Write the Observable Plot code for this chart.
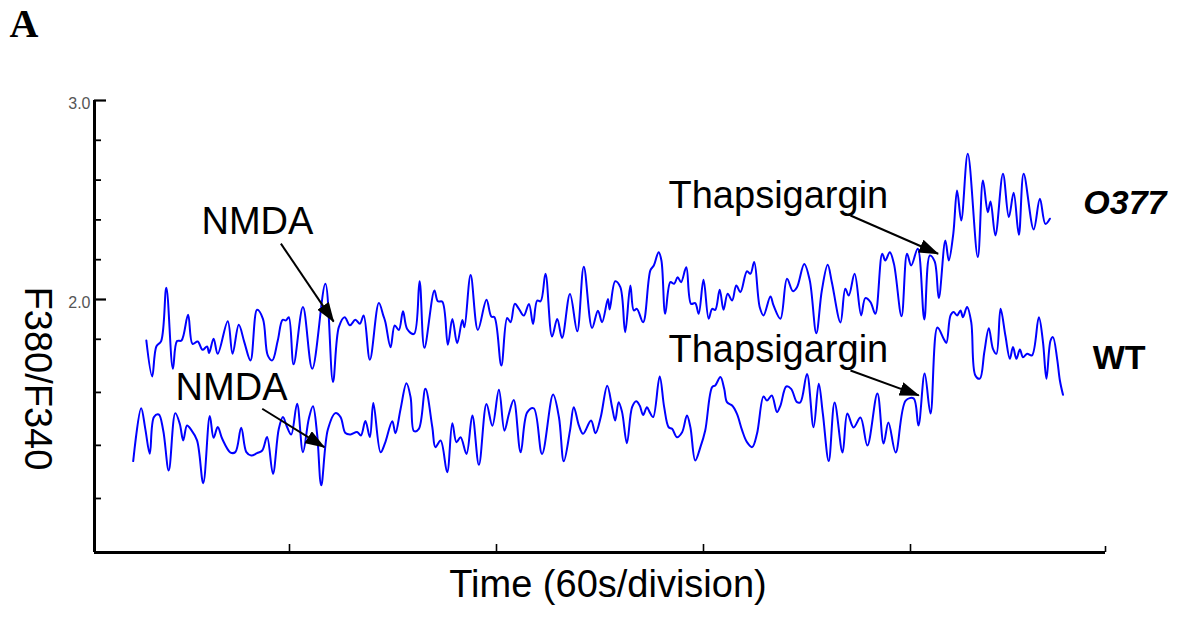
<!DOCTYPE html>
<html>
<head>
<meta charset="utf-8">
<script src="https://cdn.jsdelivr.net/npm/d3@7"></script>
<script src="https://cdn.jsdelivr.net/npm/@observablehq/plot@0.6"></script>
<style>
  html, body { margin: 0; padding: 0; background: #fff; }
  #chart svg { display: block; }
</style>
</head>
<body>
<div id="chart"></div>
<script>
// ---------- data (time in s, F380/F340 ratio) ----------
const timeO377 = [18.5,20.2,21.4,22.8,24.3,26.2,27.4,28.7,30.6,31.9,33.4,34.8,36.1,36.7,38.0,39.2,42.1,43.5,45.3,46.9,48.7,50.6,52.3,53.7,55.0,56.6,58.0,59.0,59.8,61.2,63.9,66.6,70.4,72.6,74.3,76.0,77.5,79.1,80.4,81.5,83.3,
85.9,87.2,87.8,89.3,90.5,91.7,92.9,94.1,96.1,97.7,99.1,102.0,103.0,104.3,105.9,107.2,108.6,110.1,110.7,112.5,114.6,117.1,118.5,119.4,121.4,123.1,124.1,125.3,126.5,127.9,129.4,130.6,131.8,132.8,134.2,136.1,137.6,139.0,141.3,143.4,145.3,147.7,149.4,150.6,152.3,
152.8,154.4,155.9,157.3,158.8,159.8,160.7,162.5,164.6,165.6,167.0,167.8,168.9,170.4,171.5,172.5,173.5,175.0,176.4,177.6,178.6,180.0,181.5,182.5,183.4,184.7,185.8,187.0,188.3,189.5,190.7,192.6,193.6,194.7,196.3,197.4,199.4,200.3,202.3,204.2,205.9,207.1,209.2,210.8,212.7,214.3,216.0,217.2,219.7,
221.1,222.1,223.8,225.7,226.9,228.4,229.8,231.8,232.7,234.0,235.2,237.4,239.0,240.2,242.1,244.0,245.6,247.0,248.2,250.1,251.1,252.4,253.5,254.7,256.6,259.5,261.0,262.4,263.2,264.6,266.8,268.5,269.9,271.4,272.8,275.7,277.5,279.1,280.4];
const ratioO377 = [1.794,1.613,1.764,1.791,2.059,1.652,1.791,1.794,1.923,1.777,1.789,1.747,1.764,1.731,1.803,1.727,1.891,1.727,1.873,1.786,1.694,1.948,1.903,1.719,1.694,1.794,1.898,1.895,1.911,1.674,1.962,1.652,2.079,1.585,1.861,1.911,1.870,1.898,1.878,1.920,1.697,
1.983,1.919,1.886,1.760,1.869,1.847,1.941,1.852,1.827,2.092,1.757,2.045,1.991,1.989,1.773,1.902,1.780,1.897,1.860,2.123,1.847,1.999,1.914,1.911,1.668,1.907,1.886,1.978,1.953,1.919,1.978,1.877,1.995,1.991,2.129,1.814,1.902,1.807,2.028,1.840,2.165,1.857,1.944,1.886,2.003,
1.950,2.092,2.062,1.836,2.070,1.945,1.953,1.886,2.146,2.171,2.238,2.196,1.928,2.087,2.079,2.112,2.087,2.162,1.978,1.982,1.928,2.099,1.903,1.953,1.948,2.049,1.948,2.029,1.995,2.070,2.037,2.142,2.129,2.188,1.961,1.920,2.015,1.970,1.903,2.104,2.042,2.062,2.179,2.096,1.831,2.045,2.174,2.087,1.885,
2.054,2.020,2.129,1.920,2.007,1.987,1.928,2.230,2.196,2.238,2.179,1.916,2.230,2.171,2.255,1.900,2.221,2.191,2.007,2.297,2.196,2.330,2.548,2.397,2.732,2.213,2.598,2.439,2.493,2.322,2.632,2.414,2.536,2.325,2.632,2.352,2.506,2.380,2.406];

const timeWT = [14.7,17.0,18.2,19.5,20.7,22.1,23.4,25.0,26.9,28.2,29.2,30.3,31.5,33.2,35.0,36.9,38.0,39.2,40.5,42.9,44.3,46.0,47.5,48.9,50.6,52.1,53.5,55.2,56.9,58.1,59.3,60.5,62.2,63.9,65.6,66.8,68.0,69.2,71.1,73.3,74.8,76.2,77.7,79.6,80.7,82.0,83.3,
84.3,86.4,87.6,89.8,90.7,92.2,93.9,95.1,96.1,97.5,99.4,101.4,102.3,103.8,105.7,107.2,108.4,109.6,111.3,113.0,114.9,117.1,118.8,120.7,122.3,123.6,125.0,127.0,128.9,130.8,133.2,136.4,138.1,139.5,141.3,142.4,143.9,145.1,147.4,148.7,150.2,152.1,
153.5,154.4,155.4,156.4,157.8,159.3,160.5,161.5,162.5,163.6,164.4,165.4,167.3,168.6,169.9,170.9,172.3,173.8,175.2,176.2,177.6,179.1,180.5,182.5,183.4,184.9,186.0,186.8,188.3,189.7,191.2,192.6,194.1,195.5,197.4,198.4,199.8,201.3,202.3,204.0,205.4,207.1,208.1,210.0,211.9,213.4,214.6,216.3,
218.0,220.3,221.7,223.5,225.5,227.5,230.4,232.2,233.6,235.7,238.6,240.9,242.3,244.1,245.8,247.8,
249.6,250.4,251.6,252.5,253.5,254.5,255.2,256.4,257.6,258.8,260.1,261.4,262.7,263.9,264.9,266.1,267.5,268.8,269.7,270.7,271.7,272.6,273.8,275.2,277.2,278.4,279.4,280.6,281.3,282.5,283.3,284.2];
const ratioWT = [1.188,1.454,1.350,1.225,1.409,1.422,1.342,1.141,1.429,1.375,1.292,1.367,1.345,1.292,1.077,1.414,1.305,1.359,1.300,1.231,1.233,1.355,1.233,1.216,1.228,1.241,1.309,1.124,1.350,1.409,1.359,1.322,1.476,1.233,1.401,1.463,1.325,1.066,1.345,1.429,1.409,1.329,1.322,1.334,1.317,1.389,1.309,
1.480,1.232,1.274,1.388,1.328,1.450,1.579,1.509,1.338,1.350,1.551,1.358,1.258,1.291,1.132,1.378,1.283,1.308,1.224,1.417,1.169,1.475,1.366,1.546,1.341,1.425,1.495,1.232,1.433,1.453,1.224,1.522,1.408,1.187,1.341,1.459,1.366,1.325,1.392,1.328,1.408,1.567,
1.459,1.392,1.484,1.434,1.278,1.459,1.489,1.467,1.420,1.459,1.434,1.409,1.613,1.459,1.358,1.350,1.308,1.333,1.417,1.358,1.191,1.258,1.342,1.560,1.568,1.610,1.551,1.484,1.467,1.425,1.342,1.283,1.258,1.325,1.513,1.492,1.518,1.434,1.467,1.563,1.551,1.484,1.484,1.626,1.358,1.576,1.425,1.188,
1.482,1.231,1.427,1.357,1.407,1.266,1.528,1.276,1.382,1.231,1.492,1.503,1.367,1.628,1.427,1.859,
1.803,1.782,1.920,1.937,1.920,1.945,1.911,1.962,1.886,1.618,1.602,1.736,1.856,1.752,1.727,1.953,1.819,1.702,1.761,1.702,1.749,1.710,1.727,1.719,1.911,1.786,1.602,1.794,1.811,1.702,1.593,1.521];

// axis ticks
const timeDivisions = [60, 120, 180, 240];
const ratioMajorTicks = [3.0, 2.0];
const ratioMajorLabels = ["3.0", "2.0"];
const ratioMinorTicks = [2.8, 2.6, 2.4, 2.2, 1.8, 1.533, 1.267, 1.0];
const timeDomain = [3.48, 296.52];
const ratioDomain = [0.7286, 3.0];

// series labels
const seriesNames = ["O377", "WT"];
const seriesLabelTime = [290.1, 292.8];
const seriesLabelRatio = [2.485, 1.706];

// annotations
const noteTexts = ["NMDA", "NMDA", "Thapsigargin", "Thapsigargin"];
const noteTime = [50.7, 43.2, 201.7, 201.7];
const noteRatio = [2.392, 1.558, 2.523, 1.746];
const arrowFromTime = [57.5, 52.1, 222.6, 222.6];
const arrowFromRatio = [2.281, 1.451, 2.422, 1.643];
const arrowToTime = [72.8, 70.1, 248.0, 242.4];
const arrowToRatio = [1.889, 1.258, 2.230, 1.518];

// ---------- build tables ----------
const o377 = timeO377.map((t, i) => ({t, v: ratioO377[i]}));
const wt = timeWT.map((t, i) => ({t, v: ratioWT[i]}));
const notes = noteTexts.map((s, i) => ({s, t: noteTime[i], v: noteRatio[i]}));
const arrows = arrowFromTime.map((t1, i) => ({t1, v1: arrowFromRatio[i], t2: arrowToTime[i], v2: arrowToRatio[i]}));
const series = seriesNames.map((s, i) => ({s, t: seriesLabelTime[i], v: seriesLabelRatio[i]}));
const majors = ratioMajorTicks.map((v, i) => ({v, s: ratioMajorLabels[i]}));

const W = 1183, H = 619;
const mL = 94, mR = 78, mT = 100, mB = 67;
const frameW = W - mL - mR, frameH = H - mT - mB;
const sans = "'Liberation Sans', Arial, Helvetica, sans-serif";

const plot = Plot.plot({
  width: W, height: H,
  marginLeft: mL, marginRight: mR, marginTop: mT, marginBottom: mB,
  style: {background: "#fff", fontFamily: sans, overflow: "visible"},
  x: {domain: timeDomain, axis: null},
  y: {domain: ratioDomain, axis: null},
  marks: [
    // axes
    Plot.ruleX(timeDivisions, {x: d => d, insetTop: frameH - 8, stroke: "#000", strokeWidth: 1.6}),
    Plot.ruleX([timeDomain[1]], {x: d => d, insetTop: frameH - 6, stroke: "#000", strokeWidth: 1.6}),
    Plot.ruleY(ratioMinorTicks, {y: d => d, insetRight: frameW - 7, stroke: "#000", strokeWidth: 1.8}),
    Plot.ruleY(majors, {y: "v", insetRight: frameW - 12, stroke: "#000", strokeWidth: 2.2}),
    Plot.ruleX([timeDomain[0]], {x: d => d, stroke: "#000", strokeWidth: 3}),
    Plot.ruleY([ratioDomain[0]], {y: d => d, stroke: "#000", strokeWidth: 3}),
    Plot.text(majors, {y: "v", text: "s", frameAnchor: "left", textAnchor: "end", dx: -4, dy: 3, fontSize: 16, fill: "#555"}),
    // traces
    Plot.line(o377, {x: "t", y: "v", stroke: "#0000ff", strokeWidth: 2, curve: "catmull-rom"}),
    Plot.line(wt, {x: "t", y: "v", stroke: "#0000ff", strokeWidth: 2, curve: "catmull-rom"}),
    // annotations
    Plot.link(arrows, {x1: "t1", y1: "v1", x2: "t2", y2: "v2", stroke: "#000", strokeWidth: 2, className: "ann-arrow"}),
    Plot.text(notes, {x: "t", y: "v", text: "s", fontSize: 38, fill: "#000"}),
    Plot.text(series.filter(d => d.s === "O377"), {x: "t", y: "v", text: "s", textAnchor: "start", fontSize: 34, fontWeight: "bold", fontStyle: "italic", fill: "#000"}),
    Plot.text(series.filter(d => d.s === "WT"), {x: "t", y: "v", text: "s", textAnchor: "start", fontSize: 34, fontWeight: "bold", fill: "#000"}),
    // axis titles
    Plot.text(["F380/F340"], {frameAnchor: "left", y: [2.065], dx: -57, rotate: 90, fontSize: 38, fill: "#000"}),
    Plot.text(["Time (60s/division)"], {frameAnchor: "bottom", dx: 8, dy: 44, fontSize: 38, fill: "#000"}),
    // panel letter
    Plot.text(["A"], {frameAnchor: "top-left", textAnchor: "start", lineAnchor: "bottom", dx: -85, dy: -64,
      fontSize: 40, fontWeight: "bold", fontFamily: "'Liberation Serif', 'Times New Roman', serif", fill: "#000"})
  ]
});

// filled arrowheads
const svg = d3.select(plot);
const defs = svg.insert("defs", ":first-child");
defs.append("marker")
  .attr("id", "ahead").attr("viewBox", "0 0 20 14")
  .attr("refX", 19).attr("refY", 7)
  .attr("markerWidth", 20).attr("markerHeight", 14)
  .attr("markerUnits", "userSpaceOnUse").attr("orient", "auto")
  .append("path").attr("d", "M0,0L20,7L0,14Z").attr("fill", "#000");
svg.selectAll(".ann-arrow path, .ann-arrow line").attr("marker-end", "url(#ahead)");

document.getElementById("chart").appendChild(plot);
</script>
</body>
</html>
